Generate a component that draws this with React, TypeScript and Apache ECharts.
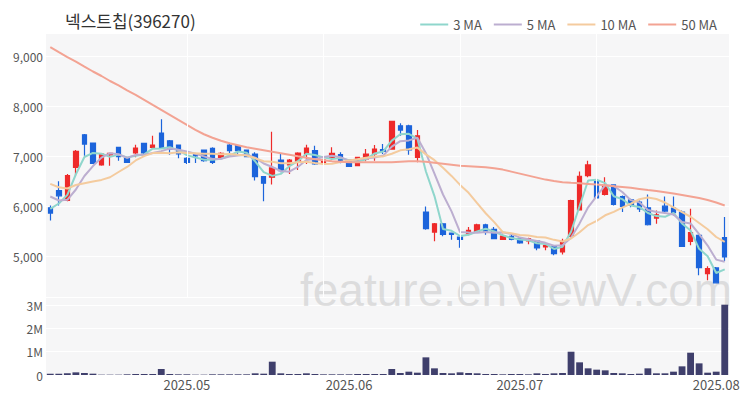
import React, { useEffect, useRef } from 'react';
import * as echarts from 'echarts';

const dates = [
  '2025-04-09','2025-04-10','2025-04-11','2025-04-14','2025-04-15','2025-04-16','2025-04-17','2025-04-18',
  '2025-04-21','2025-04-22','2025-04-23','2025-04-24','2025-04-25','2025-04-28','2025-04-29','2025-04-30',
  '2025-05-02','2025-05-07','2025-05-08','2025-05-09','2025-05-12','2025-05-13','2025-05-14','2025-05-15',
  '2025-05-16','2025-05-19','2025-05-20','2025-05-21','2025-05-22','2025-05-23','2025-05-26','2025-05-27',
  '2025-05-28','2025-05-29','2025-05-30',
  '2025-06-02','2025-06-03','2025-06-04','2025-06-05','2025-06-09','2025-06-10','2025-06-11','2025-06-12',
  '2025-06-13','2025-06-16','2025-06-17','2025-06-18','2025-06-19','2025-06-20','2025-06-23','2025-06-24',
  '2025-06-25','2025-06-26','2025-06-27','2025-06-30',
  '2025-07-01','2025-07-02','2025-07-03','2025-07-04','2025-07-07','2025-07-08','2025-07-09','2025-07-10',
  '2025-07-11','2025-07-14','2025-07-15','2025-07-16','2025-07-17','2025-07-18','2025-07-21','2025-07-22',
  '2025-07-23','2025-07-24','2025-07-25','2025-07-28','2025-07-29','2025-07-30','2025-07-31',
  '2025-08-01','2025-08-04',
];

const opens = [
  5964, 6309, 6110, 6774, 7425, 7259, 6821, 7020, 7173, 6954,
  7060, 7252, 7173, 7458, 7305, 7219, 6954, 7027, 7120, 7153,
  6954, 7219, 7206, 7120, 7040, 6588, 6575, 6920, 6821, 6894,
  7040, 7106, 6874, 6973, 7027, 6927, 6807, 6940, 7040, 7126,
  7139, 7604, 7604, 6973, 5878, 5479, 5645, 5459, 5380, 5433,
  5479, 5625, 5533, 5333, 5393, 5347, 5300, 5300, 5181, 5194,
  5081, 5393, 5924, 6608, 6509, 6230, 6422, 6190, 6124, 6077,
  5964, 5758, 5997, 5958, 5878, 5294, 5413, 4649, 4762, 5367,
];
const closes = [
  5858, 6203, 6608, 7093, 7239, 6854, 7040, 7053, 6987, 6874,
  7159, 7060, 7219, 7173, 7139, 7040, 6874, 7000, 6907, 6874,
  7053, 7106, 7106, 6987, 6588, 6456, 6761, 6708, 6920, 7060,
  7159, 6841, 6920, 7053, 6907, 6794, 6973, 7040, 7139, 7093,
  7691, 7518, 7120, 7405, 5546, 5645, 5433, 5433, 5333, 5513,
  5625, 5499, 5347, 5400, 5333, 5260, 5347, 5161, 5214, 5048,
  5294, 6110, 6595, 6821, 6163, 6389, 6031, 5991, 6011, 5944,
  5625, 5825, 5898, 5865, 5194, 5466, 4769, 4749, 4463, 4982,
];
const lows = [
  5712, 6011, 6097, 6608, 7007, 6841, 6807, 6807, 6907, 6861,
  6973, 7040, 7139, 7139, 7027, 6954, 6841, 6861, 6887, 6841,
  6920, 7040, 7040, 6973, 6509, 6097, 6429, 6675, 6641, 6721,
  6841, 6827, 6861, 6920, 6854, 6788, 6794, 6894, 6907, 7040,
  7126, 7405, 7027, 6874, 5526, 5294, 5393, 5327, 5167, 5413,
  5466, 5426, 5333, 5327, 5314, 5247, 5234, 5114, 5114, 5015,
  5028, 5380, 5911, 6575, 6143, 6210, 6011, 5878, 5977, 5878,
  5612, 5645, 5845, 5811, 5181, 5214, 4616, 4517, 4450, 4902,
];
const highs = [
  6011, 6495, 6641, 7120, 7438, 7259, 7060, 7060, 7186, 6973,
  7226, 7259, 7405, 7737, 7319, 7232, 6973, 7027, 7126, 7173,
  7073, 7266, 7219, 7120, 7073, 6588, 7485, 7040, 6940, 7073,
  7226, 7206, 6973, 7173, 7073, 6940, 6987, 7139, 7219, 7239,
  7704, 7657, 7624, 7520, 5991, 5659, 5659, 5459, 5380, 5579,
  5645, 5645, 5579, 5446, 5433, 5367, 5367, 5314, 5214, 5214,
  5347, 6124, 6688, 6907, 6542, 6575, 6429, 6210, 6143, 6110,
  6230, 5911, 6190, 6190, 5911, 5944, 5433, 4796, 4782, 5778,
];
const volumes = [
  57000, 57000, 72000, 114000, 86000, 57000, 14000, 14000, 14000, 29000,
  43000, 43000, 43000, 257000, 43000, 29000, 29000, 14000, 14000, 29000,
  29000, 29000, 29000, 29000, 72000, 57000, 572000, 72000, 43000, 43000,
  72000, 43000, 29000, 29000, 29000, 29000, 43000, 43000, 43000, 43000,
  257000, 86000, 143000, 100000, 758000, 286000, 86000, 72000, 114000, 86000,
  72000, 43000, 43000, 29000, 43000, 43000, 29000, 72000, 43000, 72000,
  86000, 1000000, 544000, 286000, 229000, 200000, 86000, 72000, 43000, 57000,
  286000, 72000, 72000, 143000, 372000, 958000, 500000, 100000, 143000, 3020000,
];
// 50-day MA (its window reaches before the visible range)
const ma50 = [
  9178, 9078, 8979, 8889, 8789, 8690, 8600, 8500, 8411, 8311,
  8222, 8122, 8022, 7923, 7823, 7723, 7624, 7524, 7435, 7365,
  7305, 7255, 7216, 7176, 7146, 7116, 7086, 7056, 7026, 6996,
  6967, 6937, 6917, 6897, 6887, 6877, 6873, 6873, 6873, 6873,
  6877, 6887, 6897, 6897, 6887, 6867, 6847, 6827, 6807, 6797,
  6787, 6777, 6757, 6728, 6688, 6648, 6608, 6568, 6528, 6498,
  6474, 6463, 6453, 6441, 6429, 6413, 6397, 6381, 6363, 6341,
  6319, 6299, 6275, 6250, 6220, 6190, 6160, 6120, 6070, 6010,
];
// first MA values (their windows start before the visible range)
const ma3Lead = [5944, 6050];
const ma5Lead = [6190, 6110, 6124, 6330];
const ma10Lead = [6442, 6376, 6350, 6420, 6456, 6490, 6522, 6575, 6680];

const maNames = ['3 MA', '5 MA', '10 MA', '50 MA'];
const maColors = ['#8fd6cc', '#bcaed0', '#f4cb9e', '#f3a393'];
const gridLineIdx = [16, 32, 48, 64];

function movingAverage(n: number, lead: number[]): number[] {
  return closes.map((_, i) => {
    if (i < n - 1) return lead[i];
    let s = 0;
    for (let k = i - n + 1; k <= i; k++) s += closes[k];
    return Math.round(s / n);
  });
}

const fmtThousands = (v: number) => String(v).replace(/\B(?=(\d{3})+(?!\d))/g, ',');
const FONT = '"Noto Sans CJK KR", "Noto Sans", sans-serif';
const UP = '#ee2a2a';
const DOWN = '#1c64db';
const BG = '#f6f6f7';

export default function App() {
  const ref = useRef<HTMLDivElement>(null);
  useEffect(() => {
    if (!ref.current) return;
    document.body.style.margin = '0';
    const chart = echarts.init(ref.current, undefined, { renderer: 'svg' });
    const ma3 = movingAverage(3, ma3Lead);
    const ma5 = movingAverage(5, ma5Lead);
    const ma10 = movingAverage(10, ma10Lead);
    const maData = [ma3, ma5, ma10, ma50];
    const isMonthStart = (i: number) => i > 0 && dates[i].slice(0, 7) !== dates[i - 1].slice(0, 7);

    const option: any = {
      animation: false,
      textStyle: { fontFamily: FONT },
      title: {
        text: '넥스트칩(396270)',
        left: 60,
        top: 7,
        textStyle: { fontSize: 17, fontWeight: 'normal', color: '#333', fontFamily: FONT },
      },
      legend: {
        data: maNames,
        right: 28,
        top: 13,
        icon: 'rect',
        itemWidth: 28,
        itemHeight: 2,
        itemGap: 12,
        textStyle: { fontSize: 13, color: '#555', fontFamily: FONT },
      },
      graphic: [
        {
          type: 'text',
          left: 300,
          top: 267,
          z: 1,
          silent: true,
          style: {
            text: 'feature.enViewV.com',
            font: '46px "Liberation Sans", Arial, sans-serif',
            fill: 'rgba(195,195,195,0.5)',
          },
        },
      ],
      grid: [
        { left: 46, right: 21, top: 33, height: 264, show: true, backgroundColor: BG, borderWidth: 0 },
        { left: 46, right: 21, top: 297, height: 78, show: true, backgroundColor: BG, borderWidth: 0 },
      ],
      xAxis: [
        {
          type: 'category', gridIndex: 0, data: dates, boundaryGap: true,
          axisLine: { show: false }, axisTick: { show: false }, axisLabel: { show: false },
          splitLine: { show: false },
        },
        {
          type: 'category', gridIndex: 1, data: dates, boundaryGap: true,
          axisLine: { show: false }, axisTick: { show: false }, splitLine: { show: false },
          axisLabel: {
            interval: (i: number) => isMonthStart(i),
            formatter: (v: string) => v.slice(0, 7).replace('-', '.'),
            color: '#555', fontSize: 13, margin: 3, fontFamily: FONT,
          },
        },
      ],
      yAxis: [
        {
          type: 'value', gridIndex: 0, min: 4180, max: 9460, splitNumber: 5,
          axisLine: { show: false }, axisTick: { show: false },
          axisLabel: {
            formatter: (v: number) => (v % 1000 === 0 ? fmtThousands(v) : ''),
            showMinLabel: false, showMaxLabel: false,
            color: '#555', fontSize: 12, margin: 3, fontFamily: FONT,
          },
          splitLine: { lineStyle: { color: '#ffffff', width: 1 } },
        },
        {
          type: 'value', gridIndex: 1, min: 0, max: 3350000, interval: 1000000,
          axisLine: { show: false }, axisTick: { show: false },
          axisLabel: {
            formatter: (v: number) => (v === 0 ? '0' : v % 1000000 === 0 ? v / 1000000 + 'M' : ''),
            showMaxLabel: false,
            color: '#555', fontSize: 12, margin: 3, fontFamily: FONT,
          },
          splitLine: { lineStyle: { color: '#ffffff', width: 1 } },
        },
      ],
      series: [
        {
          name: 'grid', type: 'line', xAxisIndex: 0, yAxisIndex: 0, z: 1, silent: true,
          data: dates.map(() => null), showSymbol: false,
          markLine: {
            silent: true, symbol: ['none', 'none'], label: { show: false },
            lineStyle: { color: '#ffffff', width: 1, type: 'solid' },
            emphasis: { disabled: true },
            data: gridLineIdx.map((i) => ({ xAxis: dates[i] })),
          },
        },
        {
          name: 'price', type: 'candlestick', xAxisIndex: 0, yAxisIndex: 0, z: 2,
          barWidth: 5,
          data: dates.map((_, i) => [opens[i], closes[i], lows[i], highs[i]]),
          itemStyle: { color: UP, color0: DOWN, borderColor: UP, borderColor0: DOWN, borderWidth: 1.2 },
        },
        ...maNames.map((name, k) => ({
          name, type: 'line', xAxisIndex: 0, yAxisIndex: 0, z: 3,
          data: maData[k], showSymbol: false, symbol: 'none',
          itemStyle: { color: maColors[k] },
          lineStyle: { color: maColors[k], width: 2 },
        })),
        {
          name: 'volume', type: 'bar', xAxisIndex: 1, yAxisIndex: 1, z: 2,
          data: volumes, barWidth: '80%',
          itemStyle: { color: '#3f3f6c' },
        },
      ],
    };
    chart.setOption(option);
    return () => chart.dispose();
  }, []);
  return <div ref={ref} style={{ position: 'absolute', left: 0, top: 0, width: 750, height: 400 }} />;
}
